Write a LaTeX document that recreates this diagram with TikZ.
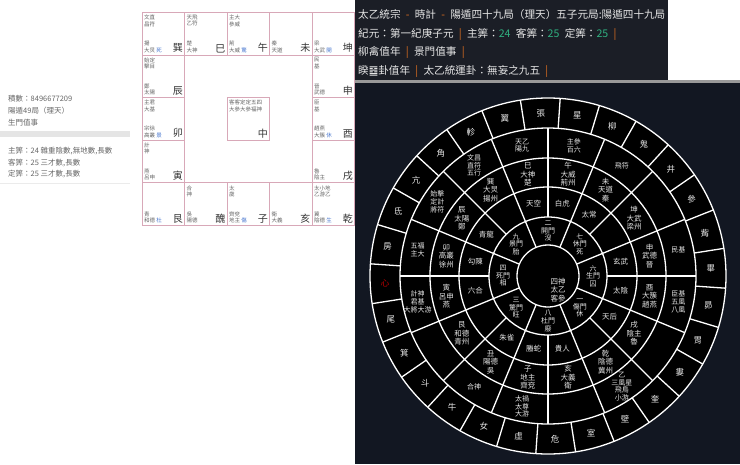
\documentclass[tikz,border=0pt]{standalone}
\usepackage{fontspec}
\setmainfont{Noto Sans CJK TC}
\newfontfamily\djv{DejaVu Sans}
\definecolor{panel}{HTML}{121722}
\definecolor{hdr}{HTML}{1B1E26}
\definecolor{org}{HTML}{E07020}
\definecolor{grn}{HTML}{30B080}
\definecolor{cellb}{HTML}{D8A8B8}
\definecolor{gtxt}{HTML}{666666}
\definecolor{wtxt}{HTML}{E6E6E6}
\definecolor{bl}{HTML}{4A78D0}
\tikzset{
  lefttxt/.style={anchor=base west,font=\fontsize{7.5}{9}\selectfont,text=gtxt,inner sep=0},
  hdrtxt/.style={anchor=base west,font=\fontsize{10.6}{12}\selectfont,text=wtxt,inner sep=0},
  celltop/.style={anchor=north west,font=\fontsize{5.5}{6.5}\selectfont,text=gtxt,align=left,inner sep=0},
  cellbot/.style={anchor=south west,font=\fontsize{5.5}{6.5}\selectfont,text=gtxt,align=left,inner sep=0},
  cellbig/.style={anchor=south east,font=\fontsize{10}{11}\selectfont,text=black!80,inner sep=0},
  wl/.style={draw=white,line width=1.3pt},
  wt/.style={text=wtxt,align=center,inner sep=0,font=\fontsize{7.5}{8.6}\selectfont},
  wt1/.style={text=wtxt,inner sep=0,font=\fontsize{8.5}{9}\selectfont},
}
\newcommand\gcell[5]{%
  \pgfmathsetmacro\xo{142+#1*42.5}\pgfmathsetmacro\yo{12.3+#2*42.6}%
  \draw[cellb,line width=0.6pt] (\xo,\yo) rectangle ++(42.5,42.6);
  \node[celltop] (t#1#2) at (\xo+2,\yo+2.5) {#3};
  \node[cellbot] (b#1#2) at (\xo+2,\yo+40.5) {#4};
  \node[cellbig] (g#1#2) at (\xo+41,\yo+40.5) {#5};
}
\newcommand\bx[1]{\textcolor{bl}{#1}}
\newcommand\sep[1]{\enspace\textcolor{org}{#1}\enspace}
\begin{document}
\begin{tikzpicture}[x=1pt,y=-1pt]
\useasboundingbox (0,0) rectangle (740,464);
\fill[white] (0,0) rectangle (740,464);
% left info
\node[lefttxt] (l1) at (8,101) {積數：8496677209};
\node[lefttxt] (l2) at (8,113) {陽遁49局（理天）};
\node[lefttxt] (l3) at (8,125) {生門值事};
\fill[black!10] (0,131) rectangle (130,137);
\node[lefttxt] (l4) at (8,153) {主筭：24 雜重陰數,無地數,長數};
\node[lefttxt] (l5) at (8,165) {客筭：25 三才數,長數};
\node[lefttxt] (l6) at (8,176) {定筭：25 三才數,長數};
\draw[black!8] (0,183) -- (130,183);
% grid
\gcell{0}{0}{文直\\昌符}{揚\\大炅 \bx{死}}{巽}
\gcell{1}{0}{天飛\\乙符}{楚\\大神}{巳}
\gcell{2}{0}{主大\\參威}{荊\\大威 \bx{驚}}{午}
\gcell{3}{0}{}{秦\\天道}{未}
\gcell{4}{0}{}{梁\\大武 \bx{開}}{坤}
\gcell{0}{1}{始定\\擊目}{鄭\\太陽}{辰}
\gcell{4}{1}{民\\基}{晉\\武德}{申}
\gcell{0}{2}{主君\\大基}{宗徐\\高叢 \bx{景}}{卯}
\gcell{2}{2}{客客定定五四\\大參大參福神}{}{中}
\gcell{4}{2}{臣\\基}{趙燕\\大簇 \bx{休}}{酉}
\gcell{0}{3}{計\\神}{燕\\呂申}{寅}
\gcell{4}{3}{}{魯\\陰主}{戌}
\gcell{0}{4}{}{青\\和德 \bx{杜}}{艮}
\gcell{1}{4}{合\\神}{吳\\陽德}{醜}
\gcell{2}{4}{太\\歲}{齊兗\\地主 \bx{傷}}{子}
\gcell{3}{4}{}{衛\\大義}{亥}
\gcell{4}{4}{太小地\\乙游乙}{冀\\陰德 \bx{生}}{乾}
% header
\fill[hdr] (355,0) rectangle (668,80);
\fill[black!40] (355,80) rectangle (740,83);
\node[hdrtxt] (h1) at (358,18) {太乙統宗\sep{-}時計\sep{-}陽遁四十九局（理天）五子元局:陽遁四十九局};
\node[hdrtxt] (h2) at (358,37) {紀元：第一紀庚子元\sep{|}主筭：\textcolor{grn}{24}\enspace 客筭：\textcolor{grn}{25}\enspace 定筭：\textcolor{grn}{25}\sep{|}};
\node[hdrtxt] (h3) at (358,55) {柳禽值年\sep{|}景門值事\sep{|}};
\node[hdrtxt] (h4) at (358,74) {睽{\djv ䷥}卦值年\sep{|}太乙統運卦：無妄之九五\sep{|}};
% panel
\fill[panel] (355,83) rectangle (740,464);
\begin{scope}[shift={(548,276)},yscale=-1]
\fill[black] (0,0) circle (178);
\foreach \r in {178,148,118,89,59,31} \draw[wl] (0,0) circle (\r);
\foreach \k in {0,...,27} \draw[wl] ({98.93-\k*12.857}:148) -- ({98.93-\k*12.857}:178);
\foreach \k in {0,...,15} \draw[wl] ({90+\k*22.5}:59) -- ({90+\k*22.5}:148);
\foreach \k in {0,...,7} \draw[wl] ({22.5+\k*45}:31) -- ({22.5+\k*45}:59);
% mansions
\foreach \t [count=\i from 0] in {張,星,柳,鬼,井,參,觜,畢,昴,胃,婁,奎,壁,室,危,虛,女,牛,斗,箕,尾,{\textcolor{red!75!black}{心}},房,氐,亢,角,軫,翼}
  \node[wt1] (m\i) at ({92.5-\i*12.857}:163) {\t};
% ring 2
\foreach \a/\t in {101.25/{天乙\\陽九},78.75/{主參\\百六},56.25/{飛符},11.25/{民基},-11.25/{臣基\\五風\\八風},-56.25/{乙\\三風星\\飛鳥\\小游},-101.25/{太禍\\太尊\\大游},-123.75/{合神},-168.75/{計神\\君基\\大將大游},168.75/{五福\\主大},146.25/{始擊\\定計\\將符},123.75/{文昌\\直符\\五行}}
  \node[wt,font=\fontsize{7}{7.8}\selectfont] at (\a:133) {\t};
% ring 3
\foreach \a/\t in {123.75/{巽\\大炅\\揚州},101.25/{巳\\大神\\楚},78.75/{午\\大威\\荊州},56.25/{未\\天道\\秦},33.75/{坤\\大武\\梁州},11.25/{申\\武德\\晉},-11.25/{酉\\大簇\\趙燕},-33.75/{戌\\陰主\\魯},-56.25/{乾\\陰德\\冀州},-78.75/{亥\\大義\\衛},-101.25/{子\\地主\\齊兗},-123.75/{丑\\陽德\\吳},-146.25/{艮\\和德\\青州},-168.75/{寅\\呂申\\燕},168.75/{卯\\高叢\\徐州},146.25/{辰\\太陽\\鄭}}
  \node[wt] at (\a:103.5) {\t};
% ring 4
\foreach \a/\t in {101.25/天空,78.75/白虎,56.25/太常,11.25/玄武,-11.25/太陰,-33.75/天后,-78.75/貴人,-101.25/螣蛇,-123.75/朱雀,-168.75/六合,168.75/勾陳,146.25/青龍}
  \node[wt] at (\a:74) {\t};
% ring 5
\foreach \a/\t in {90/{二\\開門\\沒},45/{七\\休門\\死},0/{六\\生門\\囚},-45/{一\\傷門\\休},-90/{八\\杜門\\廢},-135/{三\\驚門\\旺},180/{四\\死門\\相},135/{九\\景門\\胎}}
  \node[wt,font=\fontsize{7}{7.6}\selectfont] at (\a:45) {\t};
\node[wt] (ctr) at (10,-14) {四神\\太乙\\客參};
\end{scope}
\end{tikzpicture}
\end{document}
